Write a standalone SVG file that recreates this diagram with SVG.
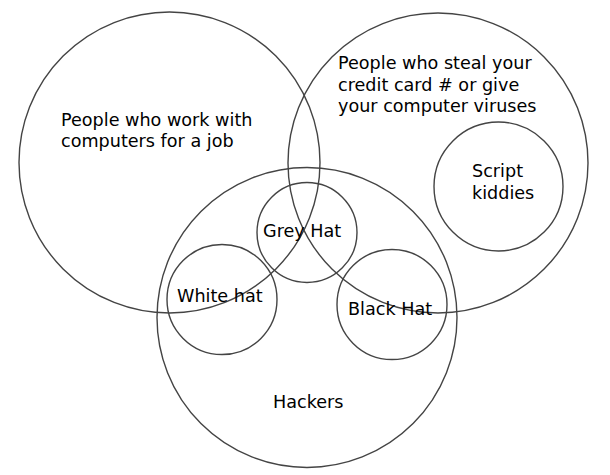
<svg xmlns="http://www.w3.org/2000/svg" width="610" height="475" viewBox="0 0 610 475">
<style>
.c{fill:none;stroke:#444;stroke-width:1.4}
.t{font-family:"DejaVu Sans",sans-serif;font-size:17.6px;fill:#000}
</style>
<rect width="610" height="475" fill="#fff"/>
<g id="workers"><circle class="c" cx="169.5" cy="162.5" r="150.5"/>
<text class="t" x="61" y="125.5">People who work with</text>
<text class="t" x="61" y="147">computers for a job</text></g>
<g id="criminals"><circle class="c" cx="438" cy="163" r="150"/>
<text class="t" x="338" y="69">People who steal your</text>
<text class="t" x="338" y="90.5">credit card # or give</text>
<text class="t" x="338" y="112">your computer viruses</text></g>
<g id="hackers"><circle class="c" cx="307" cy="317.5" r="150"/>
<text class="t" x="273" y="408">Hackers</text></g>
<g id="script-kiddies"><circle class="c" cx="498.5" cy="186.5" r="64.5"/>
<text class="t" x="472" y="177">Script</text>
<text class="t" x="472" y="198.5">kiddies</text></g>
<g id="grey-hat"><circle class="c" cx="307" cy="232.5" r="50"/>
<text class="t" x="263" y="237">Grey Hat</text></g>
<g id="white-hat"><circle class="c" cx="222" cy="299.5" r="55"/>
<text class="t" x="177" y="302">White hat</text></g>
<g id="black-hat"><circle class="c" cx="392" cy="304.5" r="55"/>
<text class="t" x="348" y="315">Black Hat</text></g>
</svg>
